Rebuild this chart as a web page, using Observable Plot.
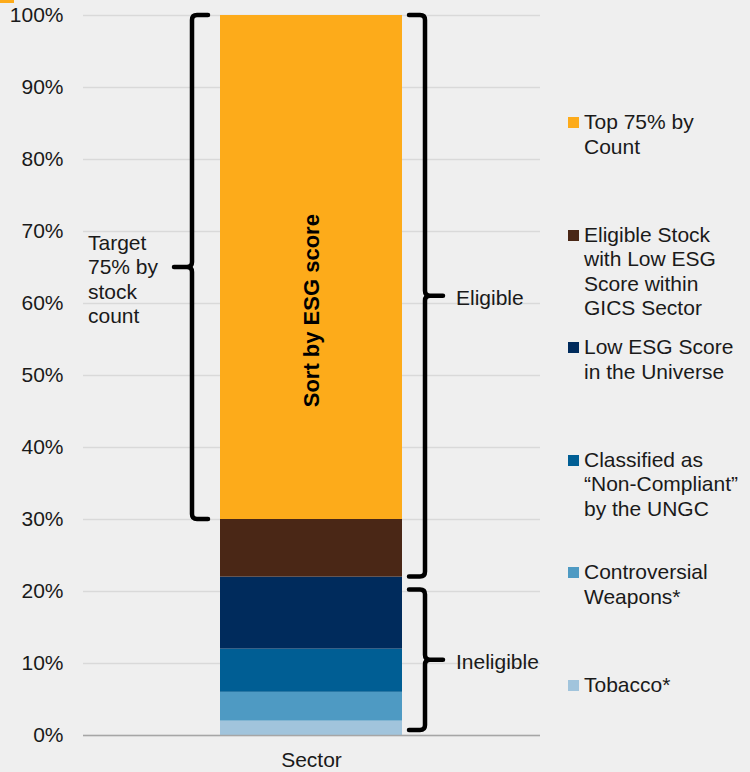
<!DOCTYPE html>
<html><head><meta charset="utf-8">
<script src="https://cdn.jsdelivr.net/npm/d3@7"></script>
<script src="https://cdn.jsdelivr.net/npm/@observablehq/plot@0.6"></script>
<style>
html,body{margin:0;padding:0;background:#efefef;}
body{width:750px;height:772px;overflow:hidden;font-family:"Liberation Sans",Arial,sans-serif;}
#wrap{position:relative;width:750px;height:772px;}
#legend{position:absolute;left:568px;top:110px;}
.item{display:flex;align-items:flex-start;height:112.6px;}
.sw{width:11px;height:11px;margin-top:7px;margin-right:5px;flex:none;}
.lab{font-size:21px;line-height:24.5px;color:#1a1a1a;white-space:nowrap;}
#corner{position:absolute;left:0;top:0;width:14px;height:3px;background:#fdab1a;}
</style></head>
<body><div id="wrap"><div id="corner"></div><div id="legend"></div></div>
<script>
// ---- data ----
const category = ["Sector"];
const segments = ["Tobacco*", "Controversial Weapons*", "Classified as “Non-Compliant” by the UNGC", "Low ESG Score in the Universe", "Eligible Stock with Low ESG Score within GICS Sector", "Top 75% by Count"];
const shares = [2, 4, 6, 10, 8, 70];
const colors = ["#a1c4dc", "#4e9ac3", "#005e94", "#002b5c", "#4a2716", "#fdab1a"];
const legendLines = [
  ["Top 75% by", "Count"],
  ["Eligible Stock", "with Low ESG", "Score within", "GICS Sector"],
  ["Low ESG Score", "in the Universe"],
  ["Classified as", "“Non-Compliant”", "by the UNGC"],
  ["Controversial", "Weapons*"],
  ["Tobacco*"]
];
const legendColors = ["#fdab1a", "#4a2716", "#002b5c", "#005e94", "#4e9ac3", "#a1c4dc"];
const yTicks = [0, 10, 20, 30, 40, 50, 60, 70, 80, 90, 100];
const braceLabels = [["Target", "75% by", "stock", "count"], ["Eligible"], ["Ineligible"]];
const braceFrom = [30, 22, 0.7];
const braceTo = [100, 100, 20.2];
const braceSide = ["left", "right", "right"];
const barNote = "Sort by ESG score";

const rows = segments.map((s, i) => ({cat: category[0], segment: s, share: shares[i]}));

function braces(index, scales, values, dims) {
  const x = scales.x, y = scales.y;
  const bw = typeof x.bandwidth === "function" ? x.bandwidth() : (dims.width - dims.marginLeft - dims.marginRight) * 0.4;
  const left = x(category[0]), right = left + bw;
  const g = d3.create("svg:g");
  braceFrom.forEach((from, i) => {
    const yTop = y(braceTo[i]), yBot = y(from), yMid = (yTop + yBot) / 2;
    const isLeft = braceSide[i] === "left";
    const xv = isLeft ? left - 28 : right + 23;
    const s = isLeft ? 1 : -1; // direction of tips
    const tip = xv + s * 16, nub = xv - s * 18, r = 5;
    const p = d3.path();
    p.moveTo(tip, yTop);
    p.lineTo(xv + s * r, yTop);
    p.quadraticCurveTo(xv, yTop, xv, yTop + r);
    p.lineTo(xv, yMid - r);
    p.quadraticCurveTo(xv, yMid, xv - s * r, yMid);
    p.lineTo(nub, yMid);
    p.moveTo(xv - s * r, yMid);
    p.quadraticCurveTo(xv, yMid, xv, yMid + r);
    p.lineTo(xv, yBot - r);
    p.quadraticCurveTo(xv, yBot, xv + s * r, yBot);
    p.lineTo(tip, yBot);
    g.append("path").attr("d", p.toString()).attr("fill", "none").attr("stroke", "#000")
      .attr("stroke-width", 4.5).attr("stroke-linecap", "round").attr("stroke-linejoin", "round");
    const lines = braceLabels[i];
    const t = g.append("text").attr("font-size", 21).attr("fill", "#1a1a1a")
      .attr("text-anchor", "start")
      .attr("font-family", '"Liberation Sans", Arial, sans-serif');
    const tx = isLeft ? xv - 104 : xv + 31;
    const startY = isLeft ? yMid - 24.5 : yMid + 2;
    lines.forEach((ln, k) => {
      t.append("tspan").attr("x", tx).attr("y", startY + k * 24.5).attr("dy", "0.35em").text(ln);
    });
  });
  return g.node();
}

const chart = Plot.plot({
  width: 750,
  height: 772,
  marginLeft: 83,
  marginRight: 210,
  marginTop: 15,
  marginBottom: 37,
  style: {background: "transparent", fontFamily: '"Liberation Sans", Arial, sans-serif', fontSize: "21px", color: "#1a1a1a"},
  x: {domain: category, padding: 0.4286, label: null},
  y: {domain: [0, 100], label: null},
  color: {domain: segments, range: colors},
  marks: [
    Plot.gridY(yTicks, {stroke: "#d9d9d9", strokeOpacity: 1, strokeWidth: 1.5}),
    Plot.barY(rows, {x: "cat", y: "share", fill: "segment"}),
    Plot.ruleY([0], {stroke: "#a6a6a6", strokeWidth: 1.5}),
    Plot.axisY(yTicks, {tickFormat: d => d + "%", tickSize: 0, tickPadding: 20, fontSize: 21, fill: "#1a1a1a", label: null}),
    Plot.axisX({tickSize: 0, tickPadding: 17, fontSize: 21, fill: "#1a1a1a", label: null}),
    Plot.text([barNote], {x: () => category[0], y: () => 59, text: d => d, rotate: -90, fontWeight: "bold", fontSize: 22, fill: "#000"}),
    braces
  ]
});
document.getElementById("wrap").appendChild(chart);

const legend = d3.select("#legend");
legendLines.forEach((lines, i) => {
  const item = legend.append("div").attr("class", "item");
  item.append("div").attr("class", "sw").style("background", legendColors[i]);
  item.append("div").attr("class", "lab").html(lines.join("<br>"));
});
</script>
</body></html>
